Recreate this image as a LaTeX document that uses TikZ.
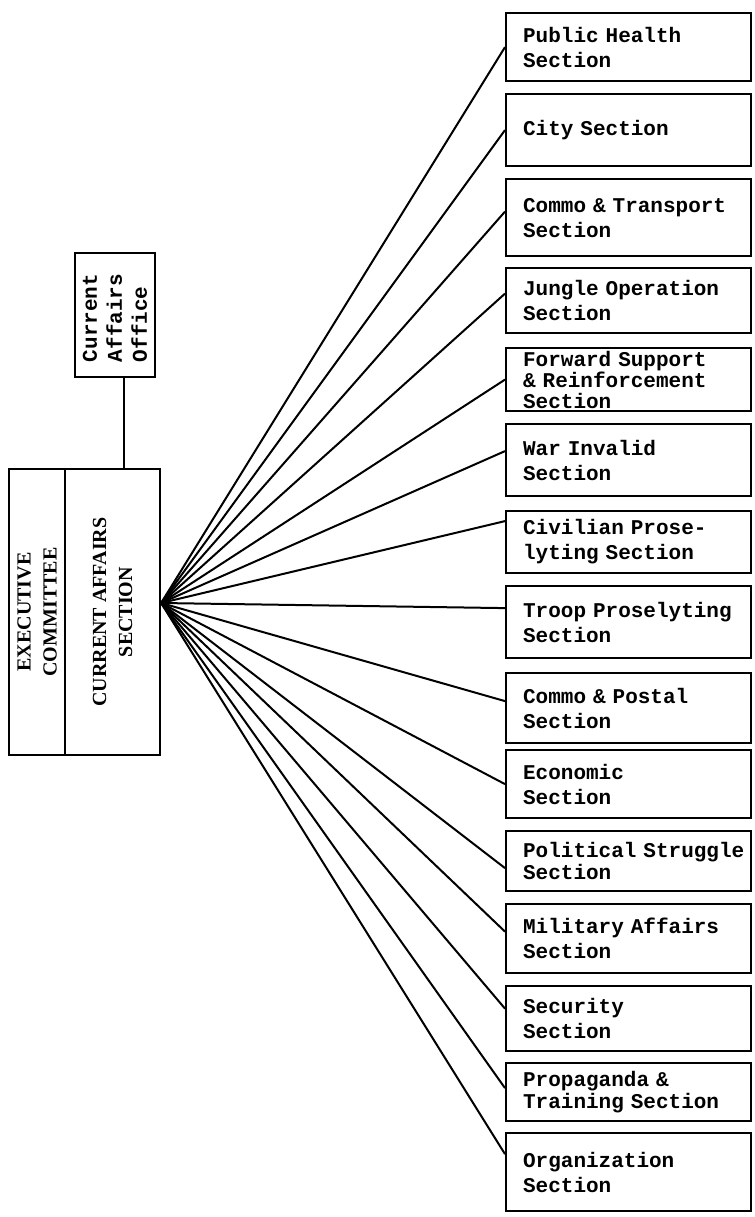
\documentclass[tikz,border=0pt]{standalone}
\usepackage{fontspec}
\setmainfont{Liberation Serif}
\setmonofont{Liberation Mono}[WordSpace={1,0,0}]
\usetikzlibrary{positioning}

\begin{document}
\begin{tikzpicture}[x=0.5pt, y=-0.5pt,
			sec/.style={draw, line width=1.1pt, anchor=north west, minimum width=122.5pt, text width=122.5pt, inner xsep=0pt, inner ysep=0pt, align=left, execute at begin node={\leftskip=8.5pt\relax}, font=\ttfamily\bfseries\fontsize{10.5}{12.5}\selectfont},
			hdr/.style={draw, line width=1.1pt, rotate=90, inner sep=0pt, align=center, minimum width=143pt, font=\bfseries\fontsize{10}{13}\selectfont},
			link/.style={line width=1pt}
			]
			\useasboundingbox (0,0) rectangle (755,1217);
			
			% Left side
			\node[hdr, minimum height=28pt] (exec) at (37,612) {EXECUTIVE\\COMMITTEE};
			\node[hdr, minimum height=47.5pt] (cas) at (112.5,612) {CURRENT AFFAIRS\\SECTION};
			\node[draw, line width=1.1pt, rotate=90, minimum width=62pt, minimum height=40pt, text width=47pt, inner xsep=7.5pt, inner ysep=0pt, align=left, font=\ttfamily\bfseries\fontsize{10.5}{12.5}\selectfont] (office) at (115,315) {Current\\Affairs\\Office};
			\coordinate (hub) at ([yshift=4.5pt]cas.south);
			
			% Sections
			\node[sec, minimum height=34pt] (ph) at (505,12) {Public Health\\Section};
			\node[sec, minimum height=36pt] (city) at (505,93) {City Section};
			\node[sec, minimum height=38.5pt] (ctrans) at (505,178) {Commo \& Transport\\Section};
			\node[sec, minimum height=32.5pt] (jungle) at (505,267) {Jungle Operation\\Section};
			\node[sec, minimum height=31.5pt, font=\ttfamily\bfseries\fontsize{10.5}{10.5}\selectfont] (fwd) at (505,347) {Forward Support\\\& Reinforcement\\Section};
			\node[sec, minimum height=36pt] (war) at (505,423) {War Invalid\\Section};
			\node[sec, minimum height=31pt] (civ) at (505,510) {Civilian Prose-\\lyting Section};
			\node[sec, minimum height=36pt] (troop) at (505,585) {Troop Proselyting\\Section};
			\node[sec, minimum height=35pt] (cpost) at (505,672) {Commo \& Postal\\Section};
			\node[sec, minimum height=34pt] (econ) at (505,749) {Economic\\Section};
			\node[sec, minimum height=30pt, font=\ttfamily\bfseries\fontsize{10.5}{11}\selectfont] (pol) at (505,830) {Political Struggle\\Section};
			\node[sec, minimum height=34.5pt] (mil) at (505,903) {Military Affairs\\Section};
			\node[sec, minimum height=32.5pt] (secu) at (505,985) {Security\\Section};
			\node[sec, minimum height=29pt, font=\ttfamily\bfseries\fontsize{10.5}{11}\selectfont] (prop) at (505,1062) {Propaganda \&\\Training Section};
			\node[sec, minimum height=39pt] (org) at (505,1132) {Organization\\Section};
			
			% Edges
			\draw[link] ([xshift=4.5pt]office.west) -- ([xshift=4.5pt]office.west |- cas.east);
			\draw[link] (hub) -- (ph.west);
			\draw[link] (hub) -- (city.west);
			\draw[link] (hub) -- ([yshift=3pt]ctrans.west);
			\draw[link] (hub) -- ([yshift=3.5pt]jungle.west);
			\draw[link] (hub) -- (fwd.west);
			\draw[link] (hub) -- ([yshift=4.5pt]war.west);
			\draw[link] (hub) -- ([yshift=10.5pt]civ.west);
			\draw[link] (hub) -- ([yshift=7pt]troop.west);
			\draw[link] (hub) -- ([yshift=3.5pt]cpost.west);
			\draw[link] (hub) -- (econ.west);
			\draw[link] (hub) -- ([yshift=-3.5pt]pol.west);
			\draw[link] (hub) -- ([yshift=3.5pt]mil.west);
			\draw[link] (hub) -- ([yshift=5pt]secu.west);
			\draw[link] (hub) -- ([yshift=2pt]prop.west);
			\draw[link] (hub) -- ([yshift=9pt]org.west);
			
		\end{tikzpicture}
\end{document}
